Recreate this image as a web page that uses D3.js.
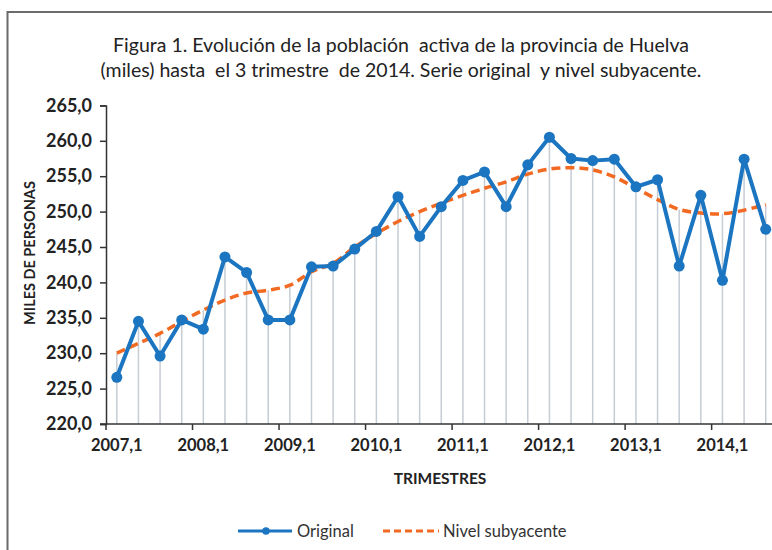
<!DOCTYPE html>
<html>
<head>
<meta charset="utf-8">
<script src="https://cdn.jsdelivr.net/npm/d3@7"></script>
<style>
  body { margin: 0; background: #fff; }
  svg { display: block; font-family: Lato, "Open Sans", sans-serif; }
</style>
</head>
<body>
<div id="chart"></div>
<script>
// Trimestres 2007,1 - 2014,3
var categories = [
  "2007,1", "2007,2", "2007,3", "2007,4",
  "2008,1", "2008,2", "2008,3", "2008,4",
  "2009,1", "2009,2", "2009,3", "2009,4",
  "2010,1", "2010,2", "2010,3", "2010,4",
  "2011,1", "2011,2", "2011,3", "2011,4",
  "2012,1", "2012,2", "2012,3", "2012,4",
  "2013,1", "2013,2", "2013,3", "2013,4",
  "2014,1", "2014,2", "2014,3"
];

// Serie original (miles)
var original = [
  226.6, 234.5, 229.6, 234.7, 233.4, 243.6, 241.4, 234.7,
  234.7, 242.2, 242.3, 244.7, 247.2, 252.1, 246.5, 250.7,
  254.4, 255.6, 250.7, 256.6, 260.5, 257.5, 257.2, 257.4,
  253.5, 254.5, 242.3, 252.3, 240.3, 257.4, 247.5
];

// Nivel subyacente
var subyacente = [
  230.0, 231.4, 232.8, 234.5, 236.1, 237.5, 238.5, 238.9,
  239.6, 241.5, 242.7, 245.0, 246.9, 248.6, 250.0, 251.2,
  252.3, 253.3, 254.2, 255.3, 256.0, 256.2, 255.9, 254.9,
  253.3, 251.7, 250.3, 249.8, 249.7, 250.2, 251.0
];

var yTicks = [220, 225, 230, 235, 240, 245, 250, 255, 260, 265];
var xLabels = ["2007,1", "2008,1", "2009,1", "2010,1", "2011,1", "2012,1", "2013,1", "2014,1"];

var titleLines = [
  "Figura 1. Evolución de la población  activa de la provincia de Huelva",
  "(miles) hasta  el 3 trimestre  de 2014. Serie original  y nivel subyacente."
];

var blue = "#1b75c0", orange = "#f26a22";

var width = 772, height = 550;
var left = 106, plotTop = 105.4, bottom = 424, bandW = 21.63;

var svg = d3.select("#chart").append("svg")
    .attr("width", width)
    .attr("height", height);

// outer frame
svg.append("rect")
    .attr("x", 7.5).attr("y", 12)
    .attr("width", 800).attr("height", 600)
    .attr("fill", "none")
    .attr("stroke", "#6b6b6b")
    .attr("stroke-width", 2);

// title
svg.selectAll(".title")
    .data(titleLines)
    .enter().append("text")
    .attr("class", "title")
    .attr("x", 401)
    .attr("y", function(d, i) { return 52 + i * 25; })
    .attr("text-anchor", "middle")
    .style("font-size", "19.5px")
    .style("fill", "#222")
    .style("white-space", "pre")
    .text(function(d) { return d; });

var x = d3.scaleBand()
    .domain(categories)
    .range([left, left + categories.length * bandW])
    .padding(0);

var y = d3.scaleLinear()
    .domain([220, 265])
    .range([bottom, plotTop]);

function cx(c) { return x(c) + x.bandwidth() / 2; }

// drop lines (from the highest series value down to the axis)
svg.append("g").selectAll("line")
    .data(categories)
    .enter().append("line")
    .attr("x1", cx).attr("x2", cx)
    .attr("y1", function(d, i) { return y(Math.max(original[i], subyacente[i])); })
    .attr("y2", y(220))
    .attr("stroke", "#c6ccd4")
    .attr("stroke-width", 1.5);

// y axis
var yAxis = svg.append("g")
    .attr("transform", "translate(" + left + ",0)")
    .call(d3.axisLeft(y)
        .tickValues(yTicks)
        .tickSize(6)
        .tickPadding(8)
        .tickFormat(function(d) { return d3.format(".1f")(d).replace(".", ","); }));
yAxis.select(".domain").attr("stroke", "#333").attr("stroke-width", 1.5);
yAxis.selectAll(".tick line").attr("stroke", "#333").attr("stroke-width", 1.5);
yAxis.selectAll("text")
    .style("font-size", "18px")
    .style("font-weight", "bold")
    .style("fill", "#222")
    .style("font-family", "Lato, sans-serif");

// x axis
var xAxis = svg.append("g")
    .attr("transform", "translate(0," + bottom + ")")
    .call(d3.axisBottom(x)
        .tickValues(xLabels)
        .tickSize(0)
        .tickPadding(15));
xAxis.select(".domain").remove();
xAxis.selectAll("text")
    .style("font-size", "16.5px")
    .style("font-weight", "bold")
    .style("fill", "#222")
    .style("font-family", "Lato, sans-serif");

xAxis.append("line")
    .attr("x1", left - 6).attr("x2", width + 10)
    .attr("stroke", "#333").attr("stroke-width", 1.5);

xAxis.selectAll(".bound")
    .data(xLabels)
    .enter().append("line")
    .attr("class", "bound")
    .attr("x1", function(d) { return x(d); })
    .attr("x2", function(d) { return x(d); })
    .attr("y1", 0).attr("y2", 6)
    .attr("stroke", "#333").attr("stroke-width", 1.5);

// axis titles
svg.append("text")
    .attr("transform", "translate(35,253) rotate(-90)")
    .attr("text-anchor", "middle")
    .style("font-size", "14.5px")
    .style("font-weight", "bold")
    .style("fill", "#222")
    .text("MILES DE PERSONAS");

svg.append("text")
    .attr("x", 440).attr("y", 484)
    .attr("text-anchor", "middle")
    .style("font-size", "15.5px")
    .style("font-weight", "bold")
    .style("fill", "#222")
    .text("TRIMESTRES");

// nivel subyacente (smoothed, dashed)
var trendLine = d3.line()
    .x(function(d, i) { return cx(categories[i]); })
    .y(function(d) { return y(d); })
    .curve(d3.curveCatmullRom.alpha(0.5));

svg.append("path")
    .datum(subyacente)
    .attr("d", trendLine)
    .attr("fill", "none")
    .attr("stroke", orange)
    .attr("stroke-width", 3.5)
    .attr("stroke-dasharray", "9,5");

// serie original
var origLine = d3.line()
    .x(function(d, i) { return cx(categories[i]); })
    .y(function(d) { return y(d); });

svg.append("path")
    .datum(original)
    .attr("d", origLine)
    .attr("fill", "none")
    .attr("stroke", blue)
    .attr("stroke-width", 4)
    .attr("stroke-linejoin", "round");

svg.append("g").selectAll("circle")
    .data(original)
    .enter().append("circle")
    .attr("cx", function(d, i) { return cx(categories[i]); })
    .attr("cy", function(d) { return y(d); })
    .attr("r", 5.5)
    .attr("fill", blue);

// legend
var legend = svg.append("g");
legend.append("line")
    .attr("x1", 238).attr("x2", 292).attr("y1", 531).attr("y2", 531)
    .attr("stroke", blue).attr("stroke-width", 3);
legend.append("circle")
    .attr("cx", 266).attr("cy", 531).attr("r", 3.8).attr("fill", blue);
legend.append("text")
    .attr("x", 297).attr("y", 537)
    .style("font-size", "16.5px").style("fill", "#333")
    .text("Original");
legend.append("line")
    .attr("x1", 383).attr("x2", 439).attr("y1", 531).attr("y2", 531)
    .attr("stroke", orange).attr("stroke-width", 3)
    .attr("stroke-dasharray", "7,4");
legend.append("text")
    .attr("x", 443).attr("y", 537)
    .style("font-size", "16.5px").style("fill", "#333")
    .text("Nivel subyacente");
</script>
</body>
</html>
